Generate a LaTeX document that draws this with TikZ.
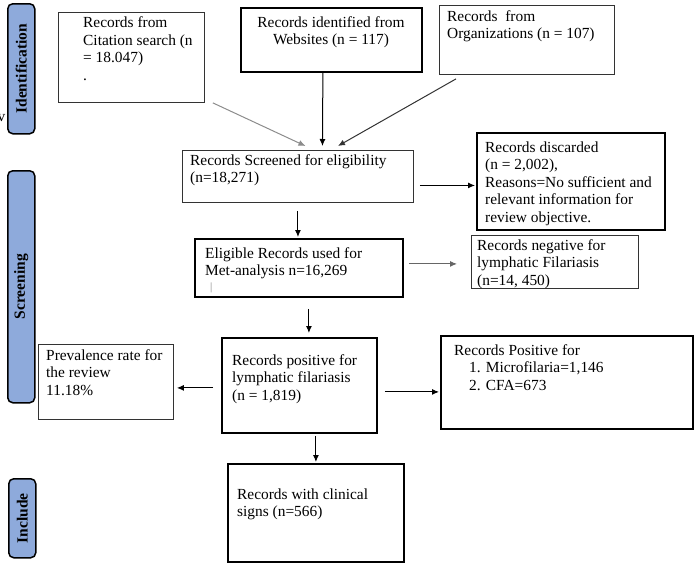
\documentclass[tikz,border=0pt]{standalone}
\usepackage{fontspec}
\setmainfont{Liberation Serif}
\usetikzlibrary{arrows.meta}

\definecolor{stageblue}{HTML}{8EAADB}
\tikzstyle{box}=[draw=black!80,line width=0.9pt,inner sep=0pt,anchor=north west]
\tikzstyle{boldbox}=[box,draw=black,line width=1.8pt]
\tikzstyle{stage}=[draw,line width=1.5pt,rounded corners=5pt,fill=stageblue,inner sep=0pt,anchor=north west]
\tikzstyle{stagetext}=[rotate=90,inner sep=0pt,font=\fontsize{15.5}{15.5}\selectfont\bfseries]
\tikzstyle{boxtext}=[anchor=base west,align=left,inner sep=0pt,font=\fontsize{15.4}{17.5}\selectfont]
\tikzstyle{flow}=[draw,line width=1pt,-{Latex[length=7pt,width=6pt]}]
\newcommand{\pxunit}{1pt}

\begin{document}
\begin{tikzpicture}[x=\pxunit, y=-\pxunit]
    \useasboundingbox (0,0) rectangle (696,563);
    % First we draw the stage bars
    \foreach \pos/\h/\name/\title in {{(7,3)/130/ident/Identification}, {(7,170)/232/screen/Screening}, {(8,478)/79/incl/Include}}
    {
        \node[stage, minimum width=27, minimum height=\h] (\name) at \pos {};
        \node[stagetext] (\name-t) at (\name.center) {\title};
    }
    \node[boxtext] (stray) at (-2.5,121) {v};

    % Then the boxes, thin ones and bold ones
    \foreach \pos/\w/\h/\name in {{(58,12)/146/90/cite}, {(439,5)/175/69/org}, {(182,150)/231/52/scr}, {(471,235)/167/53/neg}, {(38,344)/135/75/prev}}
        \node[box, minimum width=\w, minimum height=\h] (\name) at \pos {};
    \foreach \pos/\w/\h/\name in {{(240,7)/181/64/web}, {(476,132)/188/97/disc}, {(194,238)/208/58/elig}, {(221,337)/155/95/pos}, {(440,335)/252/93/mfcfa}, {(227,463)/176/98/clin}}
        \node[boldbox, minimum width=\w, minimum height=\h] (\name) at \pos {};

    % Texts inside the boxes (placed by the baseline of their last line)
    \node[boxtext] (cite-t) at (83,80) {Records from\\Citation search (n\\= 18.047)\\.};
    \node[boxtext, anchor=base, align=center] (web-t) at (331,44.5) {Records identified from\\Websites (n = 117)};
    \node[boxtext] (org-t) at (447,38.5) {Records\ \ from\\Organizations (n = 107)};
    \node[boxtext] (scr-t) at (190,182.5) {Records Screened for eligibility\\(n=18,271)};
    \node[boxtext] (disc-t) at (485,222) {Records discarded\\(n = 2,002),\\Reasons=No sufficient and\\relevant information for\\review objective.};
    \node[boxtext] (elig-t) at (205,275.5) {Eligible Records used for\\Met-analysis n=16,269};
    \node[boxtext, text=black!50, font=\fontsize{11}{11}\selectfont] (cursor) at (210,290) {|};
    \node[boxtext] (neg-t) at (477,285) {Records negative for\\lymphatic Filariasis\\(n=14, 450)};
    \node[boxtext] (pos-t) at (232,400) {Records positive for\\lymphatic filariasis\\(n = 1,819)};
    \node[boxtext] (prev-t) at (46,395) {Prevalence rate for\\the review\\11.18\%};
    \node[boxtext] (mfcfa-t) at (454,390) {Records Positive for\\\hspace*{15pt}1. Microfilaria=1,146\\\hspace*{15pt}2. CFA=673};
    \node[boxtext] (clin-t) at (237,516.5) {Records with clinical\\signs (n=566)};

    % Connect the boxes
    \draw[flow, draw=black!45] ([xshift=8pt]cite.south east) -- ([xshift=7.5pt,yshift=4pt]scr.north);
    \draw[flow] ([xshift=-8.5pt]web.south) -- ([xshift=24.5pt,yshift=4pt]scr.north);
    \draw[flow, draw=black!80] ([xshift=17pt,yshift=-4pt]org.south west) -- ([xshift=40pt,yshift=4pt]scr.north);
    \draw[flow, shorten <=6pt, shorten >=1pt] ([yshift=-9pt]scr.east) -- ([yshift=-9pt]scr.east -| disc.west);
    \draw[flow, shorten <=8pt, shorten >=1pt] (scr.south) -- (scr.south |- elig.north);
    \draw[flow, draw=black!60, shorten <=5pt, shorten >=14pt] ([yshift=4pt]elig.east) -- ([yshift=4pt]elig.east -| neg.west);
    \draw[flow, shorten <=11pt, shorten >=4pt] ([xshift=10pt]elig.south) -- ([xshift=10pt]elig.south |- pos.north);
    \draw[flow, shorten <=8pt, shorten >=3pt] ([yshift=-2.5pt]pos.west) -- ([yshift=-2.5pt]pos.west -| prev.east);
    \draw[flow, shorten <=7pt, shorten >=1pt] ([yshift=-6.5pt]pos.east) -- ([yshift=-6.5pt]pos.east -| mfcfa.west);
    \draw[flow, shorten <=2pt, shorten >=1pt] (clin.north |- pos.south) -- (clin.north);
\end{tikzpicture}
\end{document}
